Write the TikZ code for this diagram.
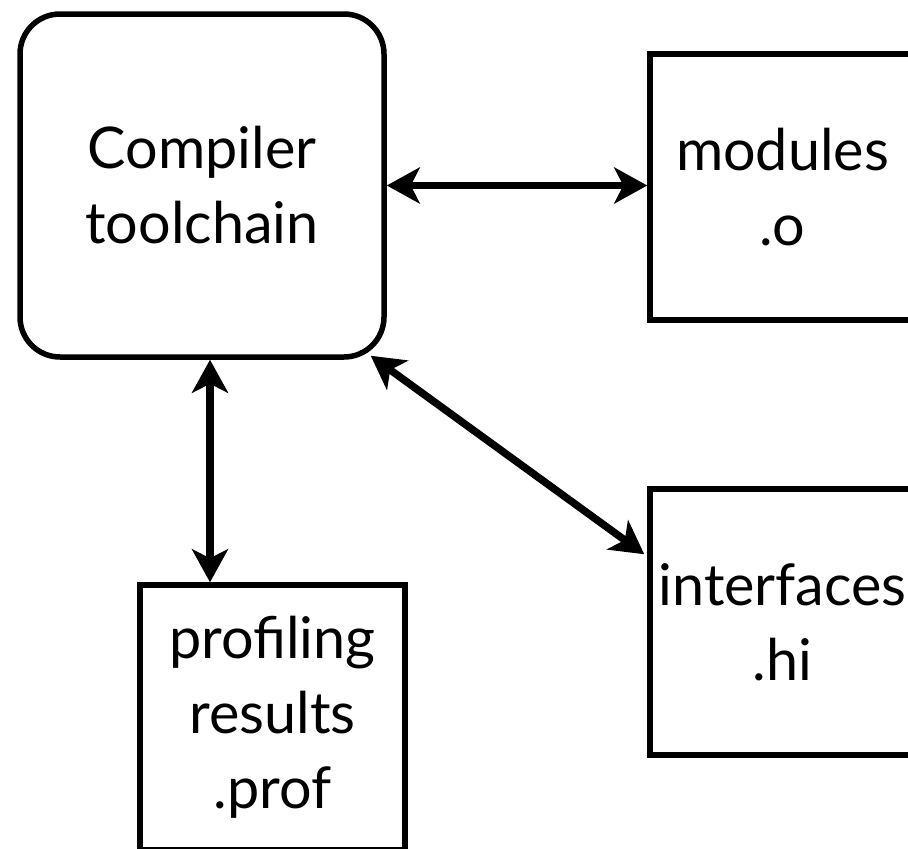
\documentclass[tikz,border=0pt]{standalone}
\usepackage{fontspec}
\setmainfont{Lato}
\usetikzlibrary{arrows.meta,calc}
\tikzset{
  box/.style={draw=black, line width=5.5pt, fill=white, align=center, inner sep=0pt,
    font=\fontsize{57.5}{75}\selectfont},
  arr/.style={line width=7.5pt, {Stealth[length=33pt,width=36pt,inset=9pt]}-{Stealth[length=33pt,width=36pt,inset=9pt]}}
}
\begin{document}
\begin{tikzpicture}[x=1pt,y=-1pt]
\useasboundingbox (0,0) rectangle (908,849);
\clip (0,0) rectangle (908,849);
\node[box, rounded corners=40pt, minimum width=364pt, minimum height=343pt] (comp) at (202,185.5) {Compiler\\toolchain};
\node[box, minimum width=265pt, minimum height=266pt] (mod) at (782.5,187) {modules\\.o};
\node[box, minimum width=265pt, minimum height=266pt] (int) at (782.5,622) {interfaces\\.hi};
\node[box, minimum width=265pt, minimum height=265pt] (prof) at (272.5,717.5) {profiling\\results\\.prof};
\coordinate (dstart) at ($(comp.south east)+(-16,-4)$);
\coordinate (dend) at ($(int.north west)+(-3,68)$);
\draw[arr] (comp.east) -- (comp.east -| mod.west);
\draw[arr] ([xshift=8pt]comp.south) -- ([xshift=8pt]comp.south |- prof.north);
\draw[arr] (dstart) -- (dend);
\end{tikzpicture}
\end{document}
